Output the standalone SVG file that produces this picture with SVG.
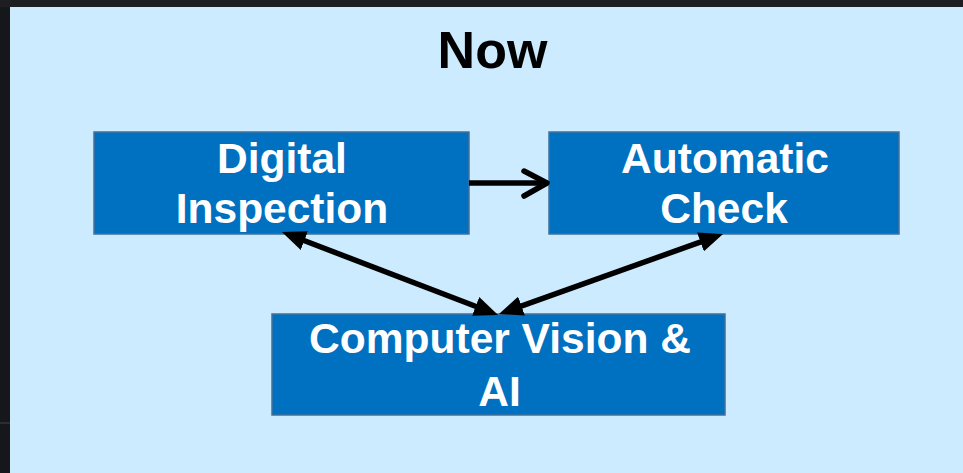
<svg xmlns="http://www.w3.org/2000/svg" width="963" height="473" viewBox="0 0 963 473">
  <style>
    .box { fill: #0070C0; stroke: #41719C; stroke-width: 1.5; }
    .lbl { font-family: "Liberation Sans", Arial, sans-serif; font-weight: bold; font-size: 42.5px; fill: #FFFFFF; text-anchor: middle; }
    .title { font-family: "Liberation Sans", Arial, sans-serif; font-weight: bold; font-size: 52px; fill: #000000; text-anchor: middle; }
    .conn { stroke: #000000; stroke-width: 5.5; fill: none; }
  </style>
  <defs>
    <marker id="tri" markerUnits="userSpaceOnUse" markerWidth="24" markerHeight="20" viewBox="0 0 24 20" refX="13" refY="10" orient="auto-start-reverse">
      <path d="M0,0 L24,10 L0,20 z" fill="#000000"/>
    </marker>
  </defs>
  <rect x="0" y="0" width="963" height="473" fill="#15171b"/>
  <rect x="0" y="0" width="963" height="7" fill="#1c1e22"/>
  <rect x="0" y="422" width="10" height="2" fill="#2a2e33"/>
  <rect x="10" y="7" width="953" height="466" fill="#CCEBFF"/>

  <g id="title">
    <text class="title" x="492.5" y="68">Now</text>
  </g>

  <g id="node-digital-inspection">
    <rect class="box" x="94" y="132" width="375" height="102"/>
    <text class="lbl" x="282" y="173">Digital</text>
    <text class="lbl" x="282" y="223">Inspection</text>
  </g>

  <g id="node-automatic-check">
    <rect class="box" x="549" y="132" width="350" height="102"/>
    <text class="lbl" x="725" y="173">Automatic</text>
    <text class="lbl" x="724" y="223">Check</text>
  </g>

  <g id="node-cv-ai">
    <rect class="box" x="272" y="314" width="453" height="101"/>
    <text class="lbl" x="500" y="353">Computer Vision &amp;</text>
    <text class="lbl" x="499.5" y="406">AI</text>
  </g>

  <g id="connectors">
    <line class="conn" x1="469" y1="183" x2="544" y2="183"/>
    <polyline class="conn" points="524,171 547,183 524,196" stroke-linecap="round" stroke-linejoin="round"/>
    <line class="conn" x1="292.2" y1="236" x2="487.8" y2="311" marker-start="url(#tri)" marker-end="url(#tri)"/>
    <line class="conn" x1="509.3" y1="310.4" x2="712.7" y2="237.6" marker-start="url(#tri)" marker-end="url(#tri)"/>
  </g>
</svg>
